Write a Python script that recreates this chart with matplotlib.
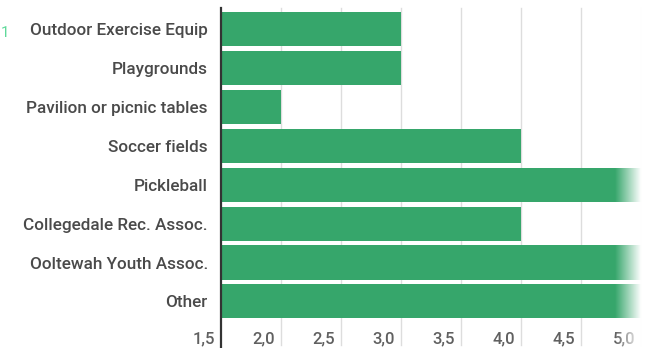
import numpy as np
import matplotlib.pyplot as plt

plt.rcParams['font.family'] = ['Roboto', 'DejaVu Sans']

categories = ["Outdoor Exercise Equip", "Playgrounds", "Pavilion or picnic tables",
              "Soccer fields", "Pickleball", "Collegedale Rec. Assoc.",
              "Ooltewah Youth Assoc.", "Other"]
values = [3.0, 3.0, 2.0, 4.0, 5.5, 4.0, 5.5, 5.5]
xticks = [1.5, 2.0, 2.5, 3.0, 3.5, 4.0, 4.5, 5.0]
xtick_labels = ["1,5", "2,0", "2,5", "3,0", "3,5", "4,0", "4,5", "5,0"]

W, H = 652, 348
fig = plt.figure(figsize=(W / 100, H / 100), dpi=100)
fig.patch.set_facecolor('white')

left, right, top, bottom = 221, 652, 8, 319
ax = fig.add_axes([left / W, 1 - bottom / H, (right - left) / W, (bottom - top) / H])

bar_color = '#36a66b'
text_color = '#4a4a4a'
grid_color = '#dddddd'

y = np.arange(len(categories))
ax.barh(y, [v - 1.5 for v in values], left=1.5, height=0.88, color=bar_color, zorder=2)
ax.set_xlim(1.5, 1.5 + (right - left) / 120)
ax.set_ylim(len(categories) - 0.547, -0.547)

for s in ax.spines.values():
    s.set_visible(False)
ax.set_xticks([])
ax.set_yticks(y)
ax.set_yticklabels(categories, fontsize=12.3, color=text_color, fontweight=500)
ax.tick_params(axis='y', length=0, pad=9.5)

# gridlines extend down through the tick label row
trans = ax.get_xaxis_transform()
for xv, lab in zip(xticks, xtick_labels):
    if xv > 1.5:
        ax.plot([xv, xv], [1, -0.085], transform=trans, color=grid_color, lw=1,
                zorder=1, clip_on=False)
    ax.text(xv - 0.05, -0.04, lab, transform=trans, ha='right', va='top',
            fontsize=12, color='#606060', fontweight=500, clip_on=False)

# left axis line
fig.add_artist(plt.Line2D([left / W, left / W], [0, 1 - top / H],
                          color='#333333', lw=1.6))

# small glyph at the left edge
fig.text(0.5 / W, 1 - 33 / H, "1", color='#5fd99a', fontsize=11, va='center', ha='left')

# right-edge fade to white
fade = fig.add_axes([612 / W, 0, (W - 612) / W, 1], zorder=10)
fade.axis('off')
grad = np.linspace(0, 1, 256)
grad = np.clip((grad * 40 - 3) / 26, 0, 1)
rgba = np.ones((1, 256, 4))
rgba[..., 3] = grad
fade.imshow(rgba, aspect='auto', extent=[0, 1, 0, 1])
fade.set_xlim(0, 1)
fade.set_ylim(0, 1)

fig.savefig('out.png', dpi=100, facecolor='white')
